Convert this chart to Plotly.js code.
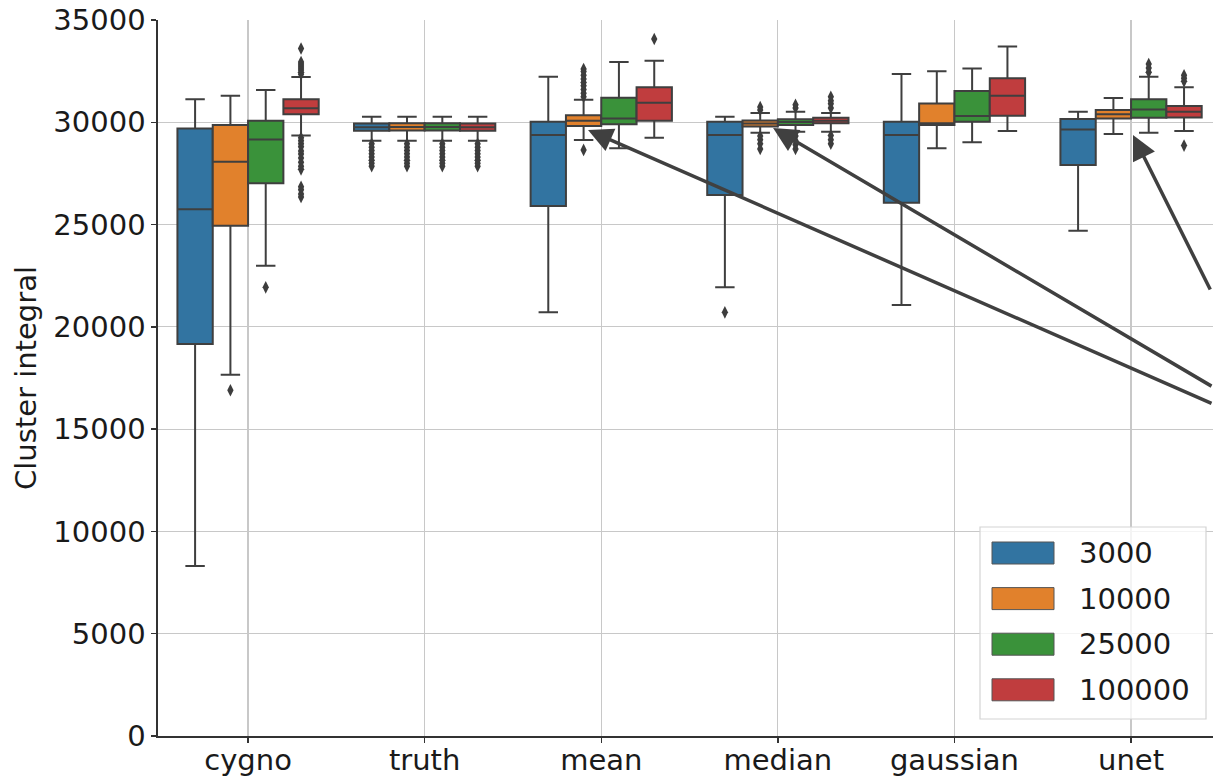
<!DOCTYPE html>
<html>
<head>
<meta charset="utf-8">
<script src="https://cdn.plot.ly/plotly-3.0.1.min.js"></script>
<style>html,body{margin:0;padding:0;background:#fff;}#chart{width:1213px;height:776px;}</style>
</head>
<body>
<div id="chart"></div>
<script>
// ---- data ----
var categories = ['cygno', 'truth', 'mean', 'median', 'gaussian', 'unet'];
var hues = ['3000', '10000', '25000', '100000'];

var q1_3000   = [19160, 29590, 25910, 26440, 26070, 27910];
var q1_10000  = [24945, 29600, 29820, 29800, 29870, 30180];
var q1_25000  = [27015, 29600, 29910, 29870, 30030, 30220];
var q1_100000 = [30390, 29590, 30080, 29950, 30320, 30240];

var med_3000   = [25745, 29760, 29380, 29380, 29380, 29650];
var med_10000  = [28070, 29770, 30070, 29940, 29950, 30390];
var med_25000  = [29160, 29770, 30190, 30010, 30310, 30630];
var med_100000 = [30680, 29760, 30960, 30080, 31300, 30520];

var q3_3000   = [29700, 29940, 30030, 30030, 30030, 30160];
var q3_10000  = [29870, 29950, 30350, 30090, 30920, 30600];
var q3_25000  = [30080, 29950, 31200, 30150, 31530, 31120];
var q3_100000 = [31120, 29940, 31710, 30220, 32150, 30800];

var lo_3000   = [8310, 29100, 20710, 21930, 21070, 24700];
var lo_10000  = [17660, 29100, 29130, 29490, 28730, 29430];
var lo_25000  = [22990, 29100, 28730, 29540, 29020, 29490];
var lo_100000 = [29360, 29100, 29250, 29540, 29570, 29570];

var hi_3000   = [31120, 30270, 32230, 30270, 32360, 30520];
var hi_10000  = [31300, 30270, 31100, 30450, 32500, 31190];
var hi_25000  = [31580, 30270, 32950, 30520, 32630, 32230];
var hi_100000 = [32210, 30270, 33010, 30450, 33710, 31710];

// outliers (points beyond the whiskers); empty = none
var out_3000 = [
  [],
  [28950, 28780, 28620, 28460, 28300, 28150, 28000, 27850],
  [],
  [20710],
  [],
  []
];
var out_10000 = [
  [16900],
  [28950, 28780, 28620, 28460, 28300, 28150, 28000, 27850],
  [31250, 31420, 31600, 31780, 31950, 32120, 32300, 32480, 32600, 28650],
  [30750, 30600, 29330, 29150, 28950, 28700],
  [],
  []
];
var out_25000 = [
  [21930],
  [28950, 28780, 28620, 28460, 28300, 28150, 28000, 27850],
  [],
  [30860, 30700, 29330, 29100, 28900, 28700],
  [],
  [32850, 32650, 32450]
];
var out_100000 = [
  [33610, 32950, 32850, 32750, 32650, 32550, 32450, 32350,
   29250, 29100, 28950, 28800, 28600, 28450, 28250, 28050, 27850, 27700,
   26850, 26700, 26500, 26350],
  [28950, 28780, 28620, 28460, 28300, 28150, 28000, 27850],
  [34070],
  [31250, 31050, 30900, 30700, 29350, 29150, 28950],
  [],
  [32300, 32150, 32000, 28860]
];

// arrow targets (category index position, value)
var arrowX = [1.925, 2.973, 5.011];
var arrowY = [29620, 29720, 29380];

// ---- styling ----
var colors = ['#3274a1', '#e1812c', '#3a923a', '#c03d3e'];
var FONT = 'DejaVu Sans, Liberation Sans, sans-serif';
var W = 1213, H = 776;
var M = {l: 158, r: 0, t: 20, b: 40};

var stats = [
  {q1: q1_3000, med: med_3000, q3: q3_3000, lo: lo_3000, hi: hi_3000, out: out_3000},
  {q1: q1_10000, med: med_10000, q3: q3_10000, lo: lo_10000, hi: hi_10000, out: out_10000},
  {q1: q1_25000, med: med_25000, q3: q3_25000, lo: lo_25000, hi: hi_25000, out: out_25000},
  {q1: q1_100000, med: med_100000, q3: q3_100000, lo: lo_100000, hi: hi_100000, out: out_100000}
];

var traces = hues.map(function (h, i) {
  var s = stats[i];
  // every box gets at least one sample (its median, which lies inside the box
  // and so is never drawn as an outlier) so that no row of points is empty
  var pts = s.out.map(function (o, k) { return o.length ? o : [s.med[k]]; });
  return {
    type: 'box',
    orientation: 'v',
    name: h,
    x: categories,
    q1: s.q1, median: s.med, q3: s.q3,
    lowerfence: s.lo, upperfence: s.hi,
    y: pts,
    boxpoints: 'outliers',
    jitter: 0, pointpos: 0,
    fillcolor: colors[i],
    line: {color: '#3f3f3f', width: 2},
    marker: {symbol: 'diamond-tall', size: 9, color: '#3d3d3d', line: {width: 0}},
    whiskerwidth: 0.55,
    showlegend: false,
    hoverinfo: 'skip'
  };
});

// manual legend (seaborn style wide patches)
var pw = W - M.l - M.r, ph = H - M.t - M.b;
function px2x(p) { return (p - M.l) / pw; }
function px2y(p) { return (H - M.b - p) / ph; }

var shapes = [{
  type: 'rect', xref: 'paper', yref: 'paper', layer: 'above',
  x0: px2x(980), x1: px2x(1206), y0: px2y(719), y1: px2y(527),
  fillcolor: 'rgba(255,255,255,0.8)', line: {color: '#d4d4d4', width: 1.2}
}];
var annotations = [];
hues.forEach(function (h, i) {
  var cy = 553 + i * 45.6;
  shapes.push({
    type: 'rect', xref: 'paper', yref: 'paper', layer: 'above',
    x0: px2x(992), x1: px2x(1054), y0: px2y(cy + 11), y1: px2y(cy - 11),
    fillcolor: colors[i], line: {color: '#555555', width: 1}
  });
  annotations.push({
    xref: 'paper', yref: 'paper', x: px2x(1077), y: px2y(cy),
    xanchor: 'left', yanchor: 'middle', showarrow: false,
    text: h, font: {family: FONT, size: 29, color: '#1a1a1a'}
  });
});

var arrowTails = [[625, 274], [440, 259], [78, 156]];
arrowX.forEach(function (xv, i) {
  annotations.push({
    xref: 'x', yref: 'y', x: xv, y: arrowY[i],
    axref: 'pixel', ayref: 'pixel', ax: arrowTails[i][0], ay: arrowTails[i][1],
    showarrow: true, arrowhead: 2, arrowsize: 1.4, arrowwidth: 3.5,
    arrowcolor: '#404040', text: ''
  });
});

var axisCommon = {
  showgrid: true, gridcolor: '#c8c8c8', gridwidth: 1.2,
  ticks: 'outside', ticklen: 5, tickwidth: 1.3, tickcolor: '#333333',
  showline: true, linecolor: '#333333', linewidth: 1.6,
  zeroline: false,
  tickfont: {family: FONT, size: 29, color: '#1a1a1a'}
};

var layout = {
  width: W, height: H,
  margin: {l: M.l, r: M.r, t: M.t, b: M.b, pad: 0},
  paper_bgcolor: '#ffffff', plot_bgcolor: '#ffffff',
  boxmode: 'group', boxgap: 0.2, boxgroupgap: 0,
  showlegend: false,
  xaxis: Object.assign({}, axisCommon, {
    type: 'category', categoryorder: 'array', categoryarray: categories,
    range: [-0.51, 5.464], automargin: false, ticklabelstandoff: -7
  }),
  yaxis: Object.assign({}, axisCommon, {
    range: [0, 35000], dtick: 5000, tick0: 0, tickformat: 'd',
    automargin: false,
    title: {text: 'Cluster integral', standoff: 8, font: {family: FONT, size: 29, color: '#1a1a1a'}}
  }),
  shapes: shapes,
  annotations: annotations
};

Plotly.newPlot('chart', traces, layout, {displayModeBar: false, staticPlot: true});
</script>
</body>
</html>
